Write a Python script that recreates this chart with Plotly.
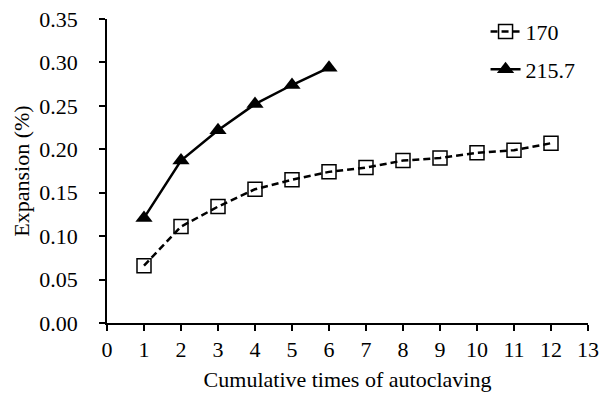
import plotly.graph_objects as go

x170 = [1, 2, 3, 4, 5, 6, 7, 8, 9, 10, 11, 12]
y170 = [0.066, 0.111, 0.134, 0.154, 0.165, 0.174, 0.179, 0.187, 0.190, 0.196, 0.199, 0.207]
x215 = [1, 2, 3, 4, 5, 6]
y215 = [0.121, 0.187, 0.222, 0.252, 0.274, 0.294]
name170 = "170"
name215 = "215.7"
xticks = list(range(0, 14))
yticks = [0.0, 0.05, 0.10, 0.15, 0.20, 0.25, 0.30, 0.35]

font = dict(family="Liberation Serif, Times New Roman, serif", size=22, color="black")

fig = go.Figure()
fig.add_trace(go.Scatter(
    x=x170, y=y170, name=name170, mode="lines+markers", legendgroup="a",
    line=dict(color="black", width=2.5, dash="7px,4px"),
    marker=dict(symbol="square-open", size=14, color="black", line=dict(width=1.5)),
))
fig.add_trace(go.Scatter(
    x=x215, y=y215, name=name215, mode="lines+markers", legendgroup="b",
    line=dict(color="black", width=2.5),
    marker=dict(symbol="triangle-up", size=15, color="black"),
))

fig.update_layout(
    width=603, height=401,
    margin=dict(l=107, r=15, t=19, b=78, autoexpand=False),
    paper_bgcolor="white", plot_bgcolor="white",
    font=font,
    showlegend=True,
    legend=dict(x=0.787, y=1.027, xanchor="left", yanchor="top",
                bgcolor="rgba(0,0,0,0)", font=font, tracegroupgap=6,
                traceorder="grouped"),
    xaxis=dict(
        range=[0, 13], tickvals=xticks, ticktext=[str(v) for v in xticks],
        showgrid=False, zeroline=False, showline=True, linecolor="black", linewidth=1.5,
        ticks="outside", ticklen=6, tickcolor="black", tickwidth=1.5,
        title=dict(text="Cumulative times of autoclaving", font=font, standoff=10),
        tickfont=font, automargin=False,
    ),
    yaxis=dict(
        range=[0, 0.35], tickvals=yticks, ticktext=[f"{v:.2f}" for v in yticks],
        showgrid=False, zeroline=False, showline=True, linecolor="black", linewidth=1.5,
        ticks="outside", ticklen=6, tickcolor="black", tickwidth=1.5,
        ticklabelstandoff=17,
        title=dict(text="Expansion (%)", font=font, standoff=4),
        tickfont=font, automargin=False,
    ),
)

fig.write_html("out.html", config={"displayModeBar": False},
               post_script="document.body.style.margin='0';document.body.style.overflow='hidden';")
